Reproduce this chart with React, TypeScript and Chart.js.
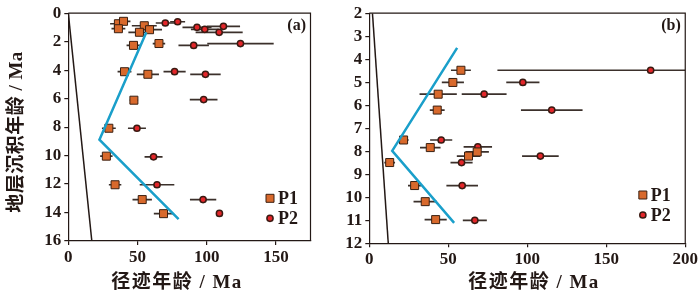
import React, { useEffect, useRef } from 'react';
import { Chart, registerables } from 'chart.js';
Chart.register(...registerables);

// ---------- Panel (a) ----------
const xTicksA = [0, 50, 100, 150];
const yTicksA = [0, 2, 4, 6, 8, 10, 12, 14, 16];
const p1AgeA = [36.2, 39.9, 36.2, 54.9, 58.7, 51.4, 47.1, 65.5, 40.6, 57.5, 47.4, 29.3, 27.5, 33.8, 53.4, 68.8];
const p1DepthA = [0.74, 0.57, 1.09, 0.88, 1.16, 1.34, 2.26, 2.13, 4.11, 4.29, 6.11, 8.08, 10.04, 12.05, 13.09, 14.08];
const p1ErrA = [6, 5, 5, 9, 9, 8, 5, 4.5, 5, 8, 3, 5, 4.5, 4.5, 7, 7];
const p2AgeA = [70.1, 79.0, 93.0, 98.6, 112.1, 109.0, 90.6, 124.4, 76.8, 99.1, 97.8, 49.6, 61.6, 64.1, 97.4, 109.2];
const p2DepthA = [0.69, 0.6, 0.99, 1.13, 0.92, 1.34, 2.26, 2.13, 4.11, 4.29, 6.07, 8.08, 10.09, 12.05, 13.09, 14.06];
const p2ErrA = [6.9, 5.4, 10.5, 10, 12, 17, 11, 24, 8, 11, 10, 6.5, 6.5, 12.5, 9.5, 0];
const trendAgeA = [56.4, 22.5, 79.7];
const trendDepthA = [1.34, 8.88, 14.47];
const refAgeA = [0, 17];
const refDepthA = [0, 16];

// ---------- Panel (b) ----------
const xTicksB = [0, 50, 100, 150, 200];
const yTicksB = [2, 3, 4, 5, 6, 7, 8, 9, 10, 11, 12];
const p1AgeB = [58.0, 52.9, 43.6, 43.0, 21.7, 38.6, 68.3, 62.8, 12.9, 28.7, 35.4, 42.0];
const p1DepthB = [4.48, 5.01, 5.52, 6.21, 7.51, 7.84, 8.03, 8.21, 8.49, 9.49, 10.19, 10.97];
const p1ErrB = [6.3, 7, 11.8, 4.7, 3.2, 6.5, 7.4, 7.4, 3.4, 4.2, 7.4, 7];
const p2AgeB = [178.1, 97.2, 72.7, 115.5, 45.5, 68.7, 108.3, 58.4, 58.8, 66.8];
const p2DepthB = [4.48, 5.01, 5.52, 6.21, 7.51, 7.81, 8.21, 8.49, 9.49, 11.0];
const p2ErrB = [97, 10.5, 14.2, 19.5, 7, 9, 11.6, 7, 10, 7.6];
const trendAgeB = [55.6, 14.5, 53.7];
const trendDepthB = [3.51, 7.98, 11.11];
const refAgeB = [2, 12];
const refDepthB = [2, 12];

const seriesNames = ['P1', 'P2'];
const xTitle = '径迹年龄 / Ma';
const yTitle = '地层沉积年龄 / Ma';

const INK = '#231815';
const SQ_FILL = '#d8692c';
const SQ_EDGE = '#3a2012';
const CI_FILL = '#e3262a';
const CI_EDGE = '#3a1a12';
const ERR = '#3b302b';
const BLUE = '#1a9fca';
const SERIF = '"Liberation Serif", "Noto Sans CJK SC", serif';

type Panel = {
  width: number;
  label: string;
  xMax: number; yMin: number; yMax: number;
  xTicks: number[]; yTicks: number[];
  p1Age: number[]; p1Depth: number[]; p1Err: number[];
  p2Age: number[]; p2Depth: number[]; p2Err: number[];
  trendAge: number[]; trendDepth: number[];
  refAge: number[]; refDepth: number[];
  yAxisWidth: number; xAxisHeight: number;
  padTop: number; padRight: number;
  showYTitle: boolean;
  xTitleX: number;
  legDx: number; legDy1: number; legDy2: number;
};

const panelA: Panel = {
  width: 320, label: '(a)', xMax: 175, yMin: 0, yMax: 16,
  xTicks: xTicksA, yTicks: yTicksA,
  p1Age: p1AgeA, p1Depth: p1DepthA, p1Err: p1ErrA,
  p2Age: p2AgeA, p2Depth: p2DepthA, p2Err: p2ErrA,
  trendAge: trendAgeA, trendDepth: trendDepthA, refAge: refAgeA, refDepth: refDepthA,
  yAxisWidth: 68.3, xAxisHeight: 56, padTop: 10, padRight: 9.5, showYTitle: true,
  xTitleX: 177,
  legDx: -40.5, legDy1: -42.7, legDy2: -22.7,
};

const panelB: Panel = {
  width: 380, label: '(b)', xMax: 200, yMin: 2, yMax: 12,
  xTicks: xTicksB, yTicks: yTicksB,
  p1Age: p1AgeB, p1Depth: p1DepthB, p1Err: p1ErrB,
  p2Age: p2AgeB, p2Depth: p2DepthB, p2Err: p2ErrB,
  trendAge: trendAgeB, trendDepth: trendDepthB, refAge: refAgeB, refDepth: refDepthB,
  yAxisWidth: 49.3, xAxisHeight: 53.7, padTop: 11, padRight: 14.3, showYTitle: false,
  xTitleX: 214,
  legDx: -42.4, legDy1: -48.3, legDy2: -28.3,
};

const zip = (xs: number[], ys: number[]) => xs.map((x, i) => ({ x, y: ys[i] }));

function drawSquare(ctx: CanvasRenderingContext2D, x: number, y: number) {
  ctx.fillStyle = SQ_FILL;
  ctx.strokeStyle = SQ_EDGE;
  ctx.lineWidth = 1;
  ctx.beginPath();
  ctx.rect(x - 4, y - 4, 8, 8);
  ctx.fill();
  ctx.stroke();
}
function drawCircle(ctx: CanvasRenderingContext2D, x: number, y: number) {
  ctx.fillStyle = CI_FILL;
  ctx.strokeStyle = CI_EDGE;
  ctx.lineWidth = 1.5;
  ctx.beginPath();
  ctx.arc(x, y, 3.1, 0, Math.PI * 2);
  ctx.fill();
  ctx.stroke();
}

function buildChart(canvas: HTMLCanvasElement, p: Panel) {
  const font = { family: SERIF, size: 17, weight: 'bold' as const };
  const plugin = {
    id: 'extras',
    beforeDatasetsDraw(chart: any) {
      const { ctx, chartArea: a, scales } = chart;
      const xs = scales.x, ys = scales.y;
      ctx.save();
      ctx.beginPath();
      ctx.rect(a.left, a.top, a.right - a.left, a.bottom - a.top);
      ctx.clip();
      ctx.strokeStyle = ERR;
      ctx.lineWidth = 1.7;
      const bars = (ages: number[], depths: number[], errs: number[]) => {
        ages.forEach((v, i) => {
          if (!errs[i]) return;
          const y = ys.getPixelForValue(depths[i]);
          ctx.beginPath();
          ctx.moveTo(xs.getPixelForValue(v - errs[i]), y);
          ctx.lineTo(xs.getPixelForValue(v + errs[i]), y);
          ctx.stroke();
        });
      };
      bars(p.p1Age, p.p1Depth, p.p1Err);
      bars(p.p2Age, p.p2Depth, p.p2Err);
      ctx.restore();
    },
    afterDatasetsDraw(chart: any) {
      const { ctx, chartArea: a } = chart;
      ctx.save();
      ctx.strokeStyle = INK;
      ctx.lineWidth = 1.2;
      ctx.beginPath();
      ctx.moveTo(a.left, a.top);
      ctx.lineTo(a.right, a.top);
      ctx.lineTo(a.right, a.bottom);
      ctx.stroke();
      // panel label
      ctx.fillStyle = INK;
      ctx.font = `bold 16px ${SERIF}`;
      ctx.textAlign = 'right';
      ctx.textBaseline = 'middle';
      ctx.fillText(p.label, a.right - 4.5, a.top + 13);
      // legend
      const lx = a.right + p.legDx;
      drawSquare(ctx, lx, a.bottom + p.legDy1);
      drawCircle(ctx, lx, a.bottom + p.legDy2);
      ctx.fillStyle = INK;
      ctx.font = `bold 18px ${SERIF}`;
      ctx.textAlign = 'left';
      ctx.fillText(seriesNames[0], lx + 8, a.bottom + p.legDy1 + 1);
      ctx.fillText(seriesNames[1], lx + 8, a.bottom + p.legDy2 + 1);
      // axis titles
      ctx.font = `bold 19px ${SERIF}`;
      (ctx as any).letterSpacing = '1.5px';
      ctx.textAlign = 'center';
      ctx.fillText(xTitle, p.xTitleX, 283);
      if (p.showYTitle) {
        ctx.translate(17, 132);
        ctx.rotate(-Math.PI / 2);
        (ctx as any).letterSpacing = '0.5px';
        ctx.fillText(yTitle, 0, 0);
      }
      ctx.restore();
    },
  };

  return new Chart(canvas, {
    type: 'scatter',
    data: {
      datasets: [
        {
          label: 'ref',
          type: 'line',
          data: zip(p.refAge, p.refDepth),
          borderColor: INK,
          borderWidth: 1.5,
          pointRadius: 0,
          fill: false,
        } as any,
        {
          label: 'trend',
          type: 'line',
          data: zip(p.trendAge, p.trendDepth),
          borderColor: BLUE,
          borderWidth: 2.5,
          pointRadius: 0,
          fill: false,
        } as any,
        {
          label: seriesNames[0],
          data: zip(p.p1Age, p.p1Depth),
          pointStyle: 'rect',
          pointRadius: 5.66,
          backgroundColor: SQ_FILL,
          borderColor: SQ_EDGE,
          borderWidth: 1,
        },
        {
          label: seriesNames[1],
          data: zip(p.p2Age, p.p2Depth),
          pointStyle: 'circle',
          pointRadius: 3.1,
          backgroundColor: CI_FILL,
          borderColor: CI_EDGE,
          borderWidth: 1.5,
        },
      ],
    },
    options: {
      responsive: false,
      animation: false,
      events: [],
      layout: { padding: { left: 0, right: p.padRight, top: p.padTop, bottom: 0 } },
      plugins: { legend: { display: false }, tooltip: { enabled: false } },
      scales: {
        x: {
          type: 'linear',
          min: 0,
          max: p.xMax,
          afterBuildTicks: (s: any) => { s.ticks = p.xTicks.map((v) => ({ value: v })); },
          afterFit: (s: any) => { s.height = p.xAxisHeight; },
          grid: { drawOnChartArea: false, drawTicks: true, tickLength: 4, color: INK, lineWidth: 1.2 },
          border: { display: true, color: INK, width: 1.2 },
          ticks: { color: INK, font, padding: 2, maxRotation: 0, autoSkip: false },
          title: { display: false },
        },
        y: {
          type: 'linear',
          reverse: true,
          min: p.yMin,
          max: p.yMax,
          afterBuildTicks: (s: any) => { s.ticks = p.yTicks.map((v) => ({ value: v })); },
          afterFit: (s: any) => { s.width = p.yAxisWidth; },
          grid: { drawOnChartArea: false, drawTicks: true, tickLength: 4, color: INK, lineWidth: 1.2 },
          border: { display: true, color: INK, width: 1.2 },
          ticks: { color: INK, font, padding: 3, autoSkip: false },
          title: { display: false },
        },
      },
    },
    plugins: [plugin],
  } as any);
}

export default function App() {
  const refA = useRef<HTMLCanvasElement>(null);
  const refB = useRef<HTMLCanvasElement>(null);
  useEffect(() => {
    const a = buildChart(refA.current!, panelA);
    const b = buildChart(refB.current!, panelB);
    return () => { a.destroy(); b.destroy(); };
  }, []);
  return (
    <div style={{ position: 'fixed', left: 0, top: 0, width: 700, height: 297, background: '#fff' }}>
      <canvas ref={refA} width={320} height={297} style={{ position: 'absolute', left: 0, top: 0 }} />
      <canvas ref={refB} width={380} height={297} style={{ position: 'absolute', left: 320, top: 0 }} />
    </div>
  );
}
